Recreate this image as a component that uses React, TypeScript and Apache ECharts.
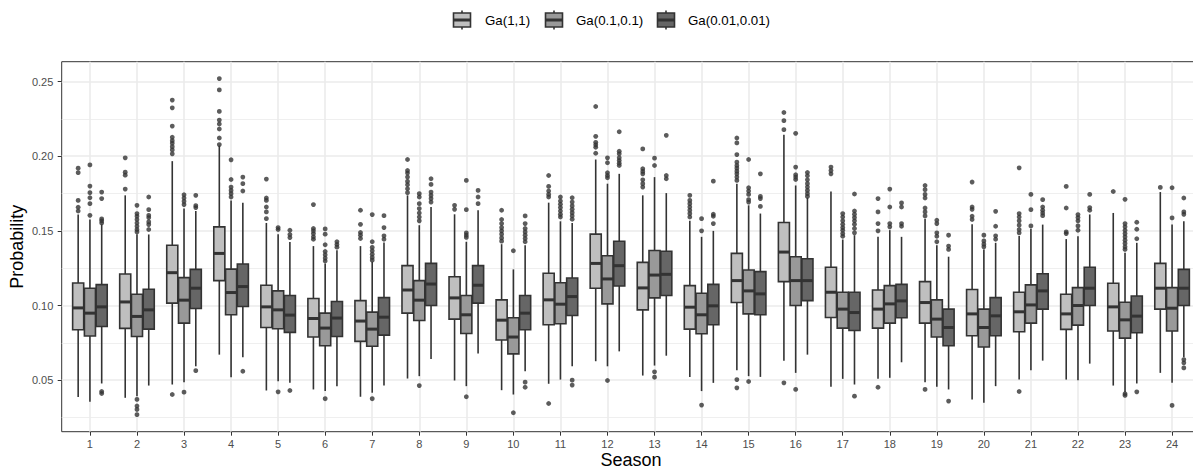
import React, { useEffect, useRef } from "react";
import * as echarts from "echarts";

// ---------------- data ----------------
const seasons = [1, 2, 3, 4, 5, 6, 7, 8, 9, 10, 11, 12, 13, 14, 15, 16, 17, 18, 19, 20, 21, 22, 23, 24];
const groupNames = ["Ga(1,1)", "Ga(0.1,0.1)", "Ga(0.01,0.01)"];
const groupFills = ["#bfbfbf", "#999999", "#666666"];
const yTicks = [0.05, 0.1, 0.15, 0.2, 0.25];
const yMinorTicks = [0.025, 0.075, 0.125, 0.175, 0.225];
const xTitle = "Season";
const yTitle = "Probability";

// [lower whisker, Q1, median, Q3, upper whisker] per season
const boxGa11 = [
  [0.0387, 0.0838, 0.0984, 0.1151, 0.1609],
  [0.0382, 0.0847, 0.1024, 0.1211, 0.1738],
  [0.0471, 0.1016, 0.122, 0.1404, 0.1967],
  [0.0671, 0.1167, 0.1349, 0.1527, 0.2071],
  [0.0431, 0.0853, 0.0991, 0.1136, 0.1553],
  [0.0438, 0.0789, 0.0913, 0.1047, 0.1398],
  [0.0389, 0.076, 0.0896, 0.1033, 0.1398],
  [0.0511, 0.0949, 0.1104, 0.1267, 0.1738],
  [0.0498, 0.0909, 0.1051, 0.1193, 0.1611],
  [0.0433, 0.0769, 0.0902, 0.1038, 0.1411],
  [0.0476, 0.0871, 0.1038, 0.1216, 0.1689],
  [0.0627, 0.1116, 0.1282, 0.1478, 0.1978],
  [0.0531, 0.0971, 0.1118, 0.1289, 0.1738],
  [0.0522, 0.0842, 0.0989, 0.1133, 0.1567],
  [0.0567, 0.102, 0.1167, 0.1349, 0.1816],
  [0.0631, 0.116, 0.1358, 0.1556, 0.2144],
  [0.0456, 0.092, 0.1089, 0.1256, 0.1764],
  [0.0509, 0.0849, 0.0976, 0.1104, 0.146],
  [0.0487, 0.0882, 0.102, 0.116, 0.1582],
  [0.0371, 0.0798, 0.0944, 0.1107, 0.1545],
  [0.0504, 0.0824, 0.0958, 0.1089, 0.1465],
  [0.0504, 0.084, 0.0944, 0.1076, 0.1445],
  [0.0464, 0.0829, 0.0991, 0.1149, 0.162],
  [0.0549, 0.0976, 0.1116, 0.1282, 0.176],
];
const boxGa01 = [
  [0.0356, 0.0796, 0.0949, 0.1116, 0.1576],
  [0.0393, 0.0793, 0.0927, 0.1076, 0.1478],
  [0.0487, 0.0882, 0.1036, 0.1187, 0.1649],
  [0.052, 0.0938, 0.1087, 0.1244, 0.1704],
  [0.0493, 0.0844, 0.0971, 0.1098, 0.1478],
  [0.0427, 0.0731, 0.0849, 0.0949, 0.1282],
  [0.0416, 0.0727, 0.0842, 0.0956, 0.1293],
  [0.0527, 0.09, 0.1036, 0.1167, 0.1538],
  [0.046, 0.0813, 0.0938, 0.1067, 0.1427],
  [0.0404, 0.0676, 0.0789, 0.0918, 0.1242],
  [0.0504, 0.0878, 0.1009, 0.1153, 0.1564],
  [0.0593, 0.1011, 0.1178, 0.1333, 0.1816],
  [0.0598, 0.1051, 0.1204, 0.1369, 0.186],
  [0.0427, 0.0811, 0.0938, 0.1082, 0.146],
  [0.0527, 0.0944, 0.1098, 0.1238, 0.1671],
  [0.0549, 0.1, 0.1167, 0.1327, 0.1804],
  [0.0509, 0.0849, 0.0976, 0.1089, 0.1442],
  [0.0516, 0.0882, 0.1011, 0.1133, 0.1505],
  [0.0456, 0.0789, 0.0909, 0.1038, 0.1404],
  [0.0349, 0.0722, 0.0853, 0.0976, 0.1376],
  [0.0567, 0.0882, 0.1004, 0.1138, 0.1515],
  [0.05, 0.0869, 0.1, 0.112, 0.1464],
  [0.042, 0.0782, 0.0904, 0.1022, 0.1353],
  [0.0482, 0.0829, 0.0982, 0.112, 0.1542],
];
const boxGa001 = [
  [0.0478, 0.086, 0.0991, 0.114, 0.1544],
  [0.0464, 0.0842, 0.0971, 0.1109, 0.1476],
  [0.0593, 0.098, 0.1116, 0.1242, 0.1633],
  [0.0653, 0.0993, 0.1127, 0.1278, 0.1689],
  [0.0482, 0.082, 0.0936, 0.1067, 0.1425],
  [0.046, 0.0793, 0.0916, 0.1027, 0.1371],
  [0.0464, 0.0802, 0.0922, 0.1053, 0.1422],
  [0.0642, 0.1, 0.1144, 0.1282, 0.166],
  [0.0678, 0.1016, 0.1136, 0.1267, 0.1638],
  [0.056, 0.0838, 0.0949, 0.1067, 0.1404],
  [0.0593, 0.0933, 0.106, 0.1184, 0.1553],
  [0.0693, 0.1131, 0.1267, 0.1431, 0.1882],
  [0.0664, 0.1067, 0.1209, 0.1364, 0.1753],
  [0.0482, 0.0871, 0.0998, 0.1142, 0.15],
  [0.0522, 0.0938, 0.1078, 0.1227, 0.1616],
  [0.0671, 0.1033, 0.1167, 0.1313, 0.1722],
  [0.0471, 0.0833, 0.0953, 0.1089, 0.1471],
  [0.062, 0.0918, 0.1031, 0.1142, 0.146],
  [0.0438, 0.0731, 0.0853, 0.0976, 0.1327],
  [0.046, 0.0798, 0.0931, 0.1053, 0.142],
  [0.0631, 0.0976, 0.1098, 0.1213, 0.1542],
  [0.0611, 0.1, 0.1116, 0.1256, 0.161],
  [0.0478, 0.0818, 0.0929, 0.1064, 0.142],
  [0.0653, 0.1, 0.1116, 0.1242, 0.1564],
];

// outliers per season
const outGa11 = [
  [0.192, 0.189, 0.1704, 0.1658, 0.1633],
  [0.1989, 0.1893, 0.1873, 0.178],
  [0.2376, 0.2324, 0.2202, 0.2127, 0.2104, 0.2087, 0.2064, 0.2042, 0.2016, 0.0404],
  [0.252, 0.2444, 0.23, 0.2242, 0.2216, 0.2182, 0.2122, 0.2078],
  [0.1847, 0.172, 0.1704, 0.166, 0.1627, 0.1582],
  [0.1676, 0.1516, 0.15, 0.1482, 0.146, 0.1444],
  [0.1638, 0.1544, 0.1489, 0.1471, 0.1449],
  [0.1978, 0.1904, 0.1887, 0.186, 0.1831, 0.1809, 0.1782, 0.1756],
  [0.1671, 0.1644],
  [0.1638, 0.1576, 0.1549, 0.1522, 0.15, 0.1478, 0.1453, 0.1431],
  [0.1871, 0.1798, 0.1767, 0.1744, 0.1727, 0.0344],
  [0.2333, 0.2133, 0.2093, 0.2076, 0.206, 0.202],
  [0.2049, 0.1916, 0.1898, 0.1882, 0.1842, 0.1816, 0.1793],
  [0.1738, 0.1704, 0.1682, 0.166, 0.1638, 0.1616, 0.1593],
  [0.2122, 0.2089, 0.2011, 0.196, 0.1938, 0.192, 0.19, 0.1882, 0.186, 0.1838, 0.0504, 0.0449],
  [0.2293, 0.2238, 0.2178, 0.0482],
  [0.1927, 0.1904, 0.1882],
  [0.1716, 0.1627, 0.1549, 0.15, 0.0453],
  [0.1804, 0.1776, 0.1744, 0.172, 0.1653, 0.1627, 0.16, 0.0438],
  [0.1827, 0.166, 0.1644, 0.1598, 0.1576],
  [0.1922, 0.1616, 0.1593, 0.1567, 0.1538, 0.1509, 0.1487, 0.0424],
  [0.1798, 0.1653, 0.1493, 0.1482],
  [0.1764],
  [0.1791],
];
const outGa01 = [
  [0.1942, 0.18, 0.1756, 0.1722, 0.1682, 0.1604],
  [0.1671, 0.1616, 0.1598, 0.1576, 0.1553, 0.1531, 0.1509, 0.1493, 0.0371, 0.0327, 0.0304, 0.0269],
  [0.1742, 0.172, 0.1698, 0.1676, 0.042],
  [0.1976, 0.1844, 0.1793, 0.1771, 0.1749, 0.1727],
  [0.1522, 0.1509, 0.0422],
  [0.1513, 0.1478, 0.1407, 0.1362, 0.134, 0.1318, 0.1298, 0.0376],
  [0.1609, 0.1427, 0.1389, 0.1367, 0.1344, 0.1322, 0.1304, 0.0376],
  [0.1749, 0.1727, 0.1682, 0.1649, 0.162, 0.1593, 0.1567, 0.0464],
  [0.1838, 0.1642, 0.1487, 0.1471, 0.1456, 0.0389],
  [0.1367, 0.0282],
  [0.1727, 0.17, 0.1678, 0.1656, 0.1633, 0.1611, 0.1593],
  [0.1989, 0.1956, 0.1889, 0.1871, 0.1856, 0.0498],
  [0.1987, 0.1938, 0.0556, 0.052],
  [0.1582, 0.15, 0.0333],
  [0.1978, 0.1789, 0.1767, 0.1744, 0.1709, 0.1693, 0.0491],
  [0.2153, 0.1927, 0.1876, 0.186, 0.1844, 0.0438],
  [0.1616, 0.1593, 0.1567, 0.1544, 0.1522, 0.1504, 0.1482, 0.1464],
  [0.178, 0.166, 0.1549, 0.1527],
  [0.1571, 0.1549, 0.1487, 0.1464, 0.1427],
  [0.1471, 0.1433, 0.1411, 0.1393],
  [0.1744, 0.1642, 0.1533],
  [0.1609, 0.1589, 0.1567, 0.1533, 0.1504],
  [0.1711, 0.1549, 0.1527, 0.1504, 0.1482, 0.146, 0.1438, 0.1416, 0.1393, 0.1376, 0.0409, 0.0398],
  [0.1789, 0.1587, 0.0331],
];
const outGa001 = [
  [0.176, 0.1716, 0.158, 0.1567, 0.1553, 0.0424, 0.0411],
  [0.1727, 0.1642, 0.1604, 0.1589, 0.156, 0.1542, 0.1509],
  [0.1738, 0.1669, 0.1656, 0.0564],
  [0.186, 0.1816, 0.1767, 0.056],
  [0.1504, 0.1476, 0.1455, 0.0431],
  [0.1427, 0.1409, 0.1391],
  [0.1602, 0.1522, 0.1467, 0.1444],
  [0.1849, 0.1811, 0.176, 0.1738, 0.1716, 0.1693],
  [0.1771, 0.1727, 0.1682],
  [0.16, 0.1549, 0.1516, 0.1493, 0.1471, 0.1449, 0.1427, 0.0487, 0.0453],
  [0.1722, 0.1693, 0.1667, 0.1644, 0.1622, 0.16, 0.1578, 0.05, 0.0467],
  [0.2164, 0.2033, 0.2016, 0.1989, 0.1971, 0.1953, 0.1938],
  [0.214, 0.1871, 0.1849],
  [0.1833, 0.1611, 0.1598, 0.1549],
  [0.1882, 0.1731, 0.1716, 0.1664],
  [0.1891, 0.1869, 0.1842, 0.1816, 0.1793, 0.1771, 0.1749, 0.1731],
  [0.1747, 0.1633, 0.1611, 0.1589, 0.1567, 0.1544, 0.1516, 0.1487, 0.0393],
  [0.1687, 0.166, 0.1549, 0.1531],
  [0.1471, 0.1398, 0.1376, 0.036],
  [0.1631, 0.1531, 0.1467, 0.1444],
  [0.1709, 0.166, 0.1638, 0.162, 0.1602],
  [0.1744, 0.1656, 0.1638],
  [0.1558, 0.1511, 0.1447, 0.0422],
  [0.172, 0.1627, 0.1611, 0.0638, 0.0616, 0.0582],
];

// ---------------- chart ----------------
const FONT = "'Liberation Sans', Arial, Helvetica, sans-serif";
const STROKE = "#333333";
const GRID_COLOR = "#ebebeb";

export default function App() {
  const ref = useRef<HTMLDivElement>(null);

  useEffect(() => {
    if (!ref.current) return;
    const chart = echarts.init(ref.current, null, { renderer: "svg" });

    const DODGE = 0.25;
    const BOX_W = 0.235;
    const LW = 1.6;
    const MEDIAN_LW = 3;
    const GRID_LEFT = 61.7;
    const GRID_TOP = 61.7;
    const GRID_W = 1138.6;
    const GRID_H = 370;
    const boxes = [boxGa11, boxGa01, boxGa001];
    const outs = [outGa11, outGa01, outGa001];

    const series: any[] = [];
    boxes.forEach((b, g) => {
      const off = (g - 1) * DODGE;
      series.push({
        type: "custom",
        name: groupNames[g],
        data: seasons.map((s, i) => [s, ...b[i]]),
        encode: { x: 0, y: [1, 2, 3, 4, 5] },
        z: 3,
        renderItem: (_params: any, api: any) => {
          const x = api.value(0) + off;
          const lo = api.coord([x, api.value(1)]);
          const q1 = api.coord([x, api.value(2)]);
          const md = api.coord([x, api.value(3)]);
          const q3 = api.coord([x, api.value(4)]);
          const hi = api.coord([x, api.value(5)]);
          const half = api.size([BOX_W, 0])[0] / 2;
          const cx = md[0];
          return {
            type: "group",
            children: [
              { type: "line", shape: { x1: cx, y1: hi[1], x2: cx, y2: q3[1] }, style: { stroke: STROKE, lineWidth: LW } },
              { type: "line", shape: { x1: cx, y1: q1[1], x2: cx, y2: lo[1] }, style: { stroke: STROKE, lineWidth: LW } },
              {
                type: "rect",
                shape: { x: cx - half, y: q3[1], width: half * 2, height: q1[1] - q3[1] },
                style: { fill: groupFills[g], stroke: STROKE, lineWidth: LW },
              },
              { type: "line", shape: { x1: cx - half, y1: md[1], x2: cx + half, y2: md[1] }, style: { stroke: STROKE, lineWidth: MEDIAN_LW } },
            ],
          };
        },
      });
      series.push({
        type: "scatter",
        name: groupNames[g] + " outliers",
        data: seasons.flatMap((s, i) => outs[g][i].map((v) => [s + off, v])),
        symbol: "circle",
        symbolSize: 4.8,
        itemStyle: { color: STROKE },
        z: 4,
      });
    });

    // manual ggplot-style legend
    const legendCenters = [462, 554, 666];
    const legendTextX = [485, 576, 688];
    const legendY = 20;
    const graphic: any[] = [];
    groupNames.forEach((n, g) => {
      const c = legendCenters[g];
      graphic.push(
        { type: "line", shape: { x1: c, y1: legendY - 9.5, x2: c, y2: legendY + 9.5 }, style: { stroke: STROKE, lineWidth: LW } },
        { type: "rect", shape: { x: c - 8.5, y: legendY - 7, width: 17, height: 14 }, style: { fill: groupFills[g], stroke: STROKE, lineWidth: LW } },
        { type: "line", shape: { x1: c - 8.5, y1: legendY, x2: c + 8.5, y2: legendY }, style: { stroke: STROKE, lineWidth: MEDIAN_LW } },
        {
          type: "text",
          x: legendTextX[g],
          y: legendY,
          style: { text: n, fontSize: 13.3, fontFamily: FONT, fill: "#000000", verticalAlign: "middle", align: "left" },
        }
      );
    });

    // axis titles
    graphic.push(
      {
        type: "text",
        x: GRID_LEFT + GRID_W / 2,
        y: 459.5,
        style: { text: xTitle, fontSize: 18, fontFamily: FONT, fill: "#000000", align: "center", verticalAlign: "middle" },
      },
      {
        type: "text",
        x: 17,
        y: GRID_TOP + GRID_H / 2,
        rotation: Math.PI / 2,
        style: { text: yTitle, fontSize: 18, fontFamily: FONT, fill: "#000000", align: "center", verticalAlign: "middle" },
      }
    );

    const axisLabelStyle = { fontSize: 11, fontFamily: FONT, color: "#4d4d4d" };

    chart.setOption({
      animation: false,
      backgroundColor: "#ffffff",
      grid: {
        left: GRID_LEFT,
        top: GRID_TOP,
        width: GRID_W,
        height: GRID_H,
        show: true,
        backgroundColor: "#ffffff",
        borderColor: STROKE,
        borderWidth: 1,
        containLabel: false,
        outerBoundsMode: "none",
      },
      xAxis: {
        type: "value",
        min: 0.4,
        max: 24.6,
        axisLine: { show: false },
        axisTick: { show: true, length: 4, lineStyle: { color: STROKE, width: 1 }, customValues: seasons },
        axisLabel: { ...axisLabelStyle, margin: 7, customValues: seasons, formatter: (v: number) => String(Math.round(v)) },
        splitLine: { show: true, lineStyle: { color: GRID_COLOR, width: 1.6 } },
      },
      yAxis: [
        {
          type: "value",
          min: 0.0155,
          max: 0.2633,
          axisLine: { show: false },
          axisTick: { show: true, length: 4, lineStyle: { color: STROKE, width: 1 }, customValues: yTicks },
          axisLabel: { ...axisLabelStyle, margin: 8.4, customValues: yTicks, formatter: (v: number) => v.toFixed(2) },
          splitLine: { show: true, lineStyle: { color: GRID_COLOR, width: 1.6 } },
        },
        {
          type: "value",
          min: 0.0155,
          max: 0.2633,
          position: "left",
          axisLine: { show: false },
          axisTick: { show: false, customValues: yMinorTicks },
          axisLabel: { show: false, customValues: yMinorTicks },
          splitLine: { show: true, lineStyle: { color: GRID_COLOR, width: 0.8 } },
        },
      ],
      graphic,
      series,
    });

    return () => chart.dispose();
  }, []);

  return <div ref={ref} style={{ position: "absolute", left: 0, top: 0, width: 1193, height: 470 }} />;
}
